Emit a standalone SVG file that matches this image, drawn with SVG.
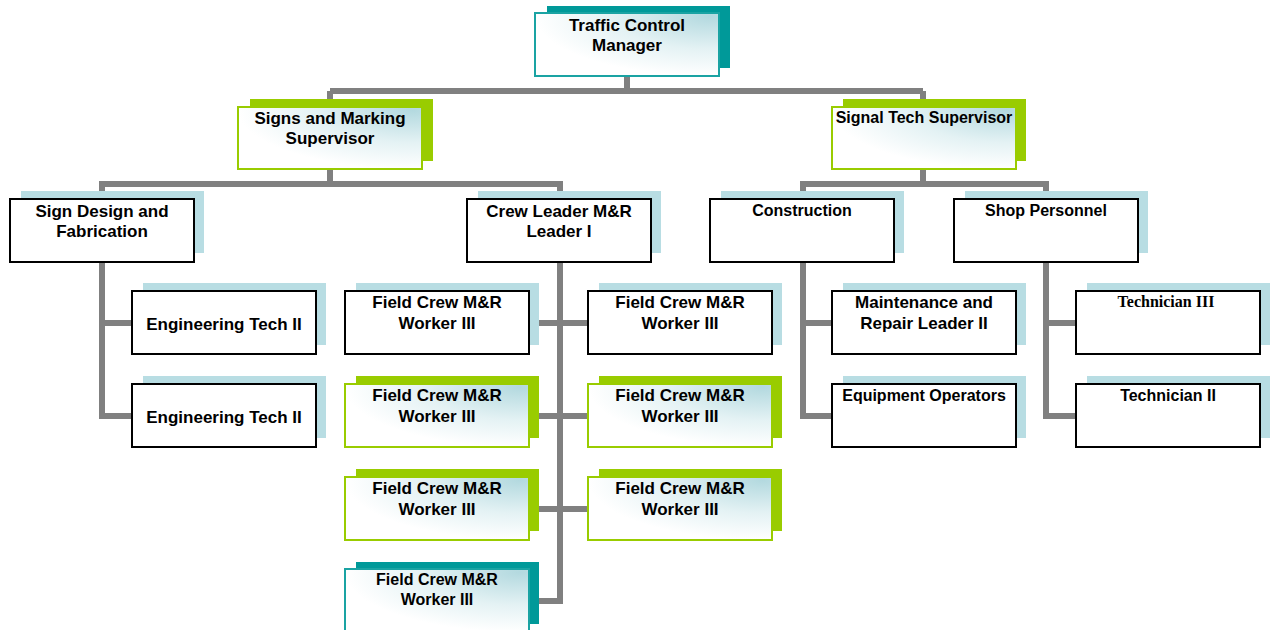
<svg xmlns="http://www.w3.org/2000/svg" width="1270" height="630" viewBox="0 0 1270 630">
<defs>
<radialGradient id="gf" cx="0.95" cy="0.05" r="0.95">
<stop offset="0" stop-color="#b3d9df"/>
<stop offset="0.55" stop-color="#e4f2f4"/>
<stop offset="1" stop-color="#ffffff"/>
</radialGradient>
<style>
.conn{fill:none;stroke:#808080;stroke-width:6;stroke-linejoin:miter}
.sh-blue{fill:#b8dde3}
.sh-green{fill:#99cc00}
.sh-teal{fill:#009999}
.fr-plain{fill:#ffffff;stroke:#000000;stroke-width:2}
.fr-green{fill:url(#gf);stroke:#99cc00;stroke-width:2}
.fr-teal{fill:url(#gf);stroke:#1aa3a3;stroke-width:2}
text{font-family:"Liberation Sans",Arial,sans-serif;font-weight:bold;font-size:17px;fill:#000;text-anchor:middle}
.s16{font-size:16px}
.serif{font-family:"Liberation Serif","Times New Roman",serif;font-size:16px}
</style>
</defs>
<rect width="1270" height="630" fill="#ffffff"/>
<g id="connectors">
<path class="conn" d="M627,76 V91 M330,91 H923 M330,91 V107 M923,91 V107"/>
<path class="conn" d="M330,169 V184 M102,199 V184 H560 V199"/>
<path class="conn" d="M923,169 V184 M803,199 V184 H1046 V199"/>
<path class="conn" d="M102,262 V416 H132 M102,323 H132"/>
<path class="conn" d="M560,262 V601 H529 M529,323 H588 M529,416 H588 M529,509 H588"/>
<path class="conn" d="M803,262 V416 H832 M803,323 H832"/>
<path class="conn" d="M1046,262 V416 H1076 M1046,323 H1076"/>
</g>
<g id="traffic-control-manager">
<rect class="sh-teal" x="547" y="6" width="183" height="62"/>
<rect class="fr-teal" x="535" y="13" width="184" height="63"/>
<text x="627" y="31">Traffic Control</text>
<text x="627" y="51">Manager</text>
</g>
<g id="signs-marking-supervisor">
<rect class="sh-green" x="250" y="99" width="183" height="62"/>
<rect class="fr-green" x="238" y="107" width="184" height="62"/>
<text x="330" y="124">Signs and Marking</text>
<text x="330" y="144">Supervisor</text>
</g>
<g id="signal-tech-supervisor">
<rect class="sh-green" x="843" y="99" width="183" height="62"/>
<rect class="fr-green" x="832" y="107" width="184" height="62"/>
<text class="s16" x="924" y="123">Signal Tech Supervisor</text>
</g>
<g id="sign-design-fabrication">
<rect class="sh-blue" x="21" y="191" width="183" height="62"/>
<rect class="fr-plain" x="10" y="199" width="184" height="63"/>
<text x="102" y="217">Sign Design and</text>
<text x="102" y="237">Fabrication</text>
</g>
<g id="crew-leader">
<rect class="sh-blue" x="478" y="191" width="183" height="62"/>
<rect class="fr-plain" x="467" y="199" width="184" height="63"/>
<text x="559" y="217">Crew Leader M&amp;R</text>
<text x="559" y="237">Leader I</text>
</g>
<g id="construction">
<rect class="sh-blue" x="721" y="191" width="183" height="62"/>
<rect class="fr-plain" x="710" y="199" width="184" height="63"/>
<text class="s16" x="802" y="216">Construction</text>
</g>
<g id="shop-personnel">
<rect class="sh-blue" x="965" y="191" width="183" height="62"/>
<rect class="fr-plain" x="954" y="199" width="184" height="63"/>
<text class="s16" x="1046" y="216">Shop Personnel</text>
</g>
<g id="engineering-tech-1">
<rect class="sh-blue" x="143" y="283" width="183" height="62"/>
<rect class="fr-plain" x="132" y="291" width="184" height="63"/>
<text x="224" y="330">Engineering Tech II</text>
</g>
<g id="engineering-tech-2">
<rect class="sh-blue" x="143" y="376" width="183" height="62"/>
<rect class="fr-plain" x="132" y="384" width="184" height="63"/>
<text x="224" y="423">Engineering Tech II</text>
</g>
<g id="field-crew-1">
<rect class="sh-blue" x="356" y="283" width="183" height="62"/>
<rect class="fr-plain" x="345" y="291" width="184" height="63"/>
<text x="437" y="308">Field Crew M&amp;R</text>
<text x="437" y="329">Worker III</text>
</g>
<g id="field-crew-2">
<rect class="sh-blue" x="599" y="283" width="183" height="62"/>
<rect class="fr-plain" x="588" y="291" width="184" height="63"/>
<text x="680" y="308">Field Crew M&amp;R</text>
<text x="680" y="329">Worker III</text>
</g>
<g id="field-crew-3">
<rect class="sh-green" x="356" y="376" width="183" height="62"/>
<rect class="fr-green" x="345" y="384" width="184" height="63"/>
<text x="437" y="401">Field Crew M&amp;R</text>
<text x="437" y="422">Worker III</text>
</g>
<g id="field-crew-4">
<rect class="sh-green" x="599" y="376" width="183" height="62"/>
<rect class="fr-green" x="588" y="384" width="184" height="63"/>
<text x="680" y="401">Field Crew M&amp;R</text>
<text x="680" y="422">Worker III</text>
</g>
<g id="field-crew-5">
<rect class="sh-green" x="356" y="469" width="183" height="62"/>
<rect class="fr-green" x="345" y="477" width="184" height="63"/>
<text x="437" y="494">Field Crew M&amp;R</text>
<text x="437" y="515">Worker III</text>
</g>
<g id="field-crew-6">
<rect class="sh-green" x="599" y="469" width="183" height="62"/>
<rect class="fr-green" x="588" y="477" width="184" height="63"/>
<text x="680" y="494">Field Crew M&amp;R</text>
<text x="680" y="515">Worker III</text>
</g>
<g id="field-crew-7">
<rect class="sh-teal" x="356" y="562" width="183" height="62"/>
<rect class="fr-teal" x="345" y="569" width="184" height="63"/>
<text class="s16" x="437" y="585">Field Crew M&amp;R</text>
<text class="s16" x="437" y="605">Worker III</text>
</g>
<g id="maintenance-repair-leader">
<rect class="sh-blue" x="843" y="283" width="183" height="62"/>
<rect class="fr-plain" x="832" y="291" width="184" height="63"/>
<text x="924" y="308">Maintenance and</text>
<text x="924" y="329">Repair Leader II</text>
</g>
<g id="equipment-operators">
<rect class="sh-blue" x="843" y="376" width="183" height="62"/>
<rect class="fr-plain" x="832" y="384" width="184" height="63"/>
<text class="s16" x="924" y="401">Equipment Operators</text>
</g>
<g id="technician-3">
<rect class="sh-blue" x="1087" y="283" width="183" height="62"/>
<rect class="fr-plain" x="1076" y="291" width="184" height="63"/>
<text class="serif" x="1166" y="307">Technician III</text>
</g>
<g id="technician-2">
<rect class="sh-blue" x="1087" y="376" width="183" height="62"/>
<rect class="fr-plain" x="1076" y="384" width="184" height="63"/>
<text class="s16" x="1168" y="401">Technician II</text>
</g>
</svg>
